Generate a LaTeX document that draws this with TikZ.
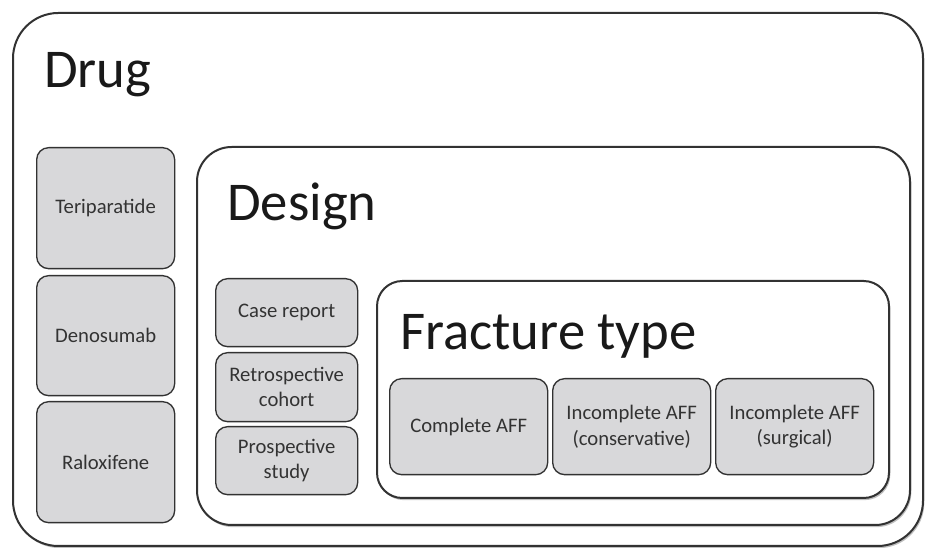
\documentclass[tikz,border=0pt]{standalone}
\usepackage{fontspec}
\setmainfont{Carlito}
\usetikzlibrary{positioning, shadows}
\definecolor{boxgray}{RGB}{216,216,218}
\definecolor{edgegray}{RGB}{50,50,50}

\begin{document}
\begin{tikzpicture}[x=0.75pt, y=-0.75pt,
  group/.style={rectangle, draw=edgegray, line width=1.5pt, fill=white, anchor=north west, inner sep=0pt,
    drop shadow={opacity=0.5, shadow xshift=1pt, shadow yshift=-1.6pt}},
  item/.style={rectangle, draw=edgegray, line width=1pt, fill=boxgray, rounded corners=9pt, anchor=north west,
    inner sep=0pt, align=center, text=black!80, font=\fontsize{15.5}{19}\selectfont},
  title/.style={anchor=base west, inner sep=0pt, text=black!90, font=\fontsize{41}{48}\selectfont}]
\useasboundingbox (0,0) rectangle (925,548);

\node[group, rounded corners=34pt, minimum width=682.5pt, minimum height=399.75pt] (drug) at (12,12) {};
\node[title] (drug_title) at (44,88) {Drug};
\node[item, minimum width=103.5pt, minimum height=90.75pt] (teriparatide) at (36,147) {Teriparatide};
\node[item, minimum width=103.5pt, minimum height=90pt] (denosumab) at (36,275) {Denosumab};
\node[item, minimum width=103.5pt, minimum height=90.75pt] (raloxifene) at (36,401) {Raloxifene};

\node[group, rounded corners=26pt, minimum width=534.75pt, minimum height=283.5pt] (design) at (196,146) {};
\node[title] (design_title) at (227,221) {Design};
\node[item, minimum width=106.5pt, minimum height=51pt] (case_report) at (215,278) {Case report};
\node[item, minimum width=106.5pt, minimum height=51.75pt] (retrospective) at (215,352) {Retrospective\\cohort};
\node[item, minimum width=106.5pt, minimum height=51pt] (prospective) at (215,426) {Prospective\\study};

\node[group, rounded corners=19pt, minimum width=384pt, minimum height=162.75pt] (fracture) at (376,280) {};
\node[title] (fracture_title) at (400,350) {Fracture type};
\node[item, minimum width=118.5pt, minimum height=72pt] (complete) at (389,378) {Complete AFF};
\node[item, minimum width=118.5pt, minimum height=72pt] (conservative) at (552,378) {Incomplete AFF\\(conservative)};
\node[item, minimum width=118.5pt, minimum height=72pt] (surgical) at (715,378) {Incomplete AFF\\(surgical)};
\end{tikzpicture}
\end{document}
